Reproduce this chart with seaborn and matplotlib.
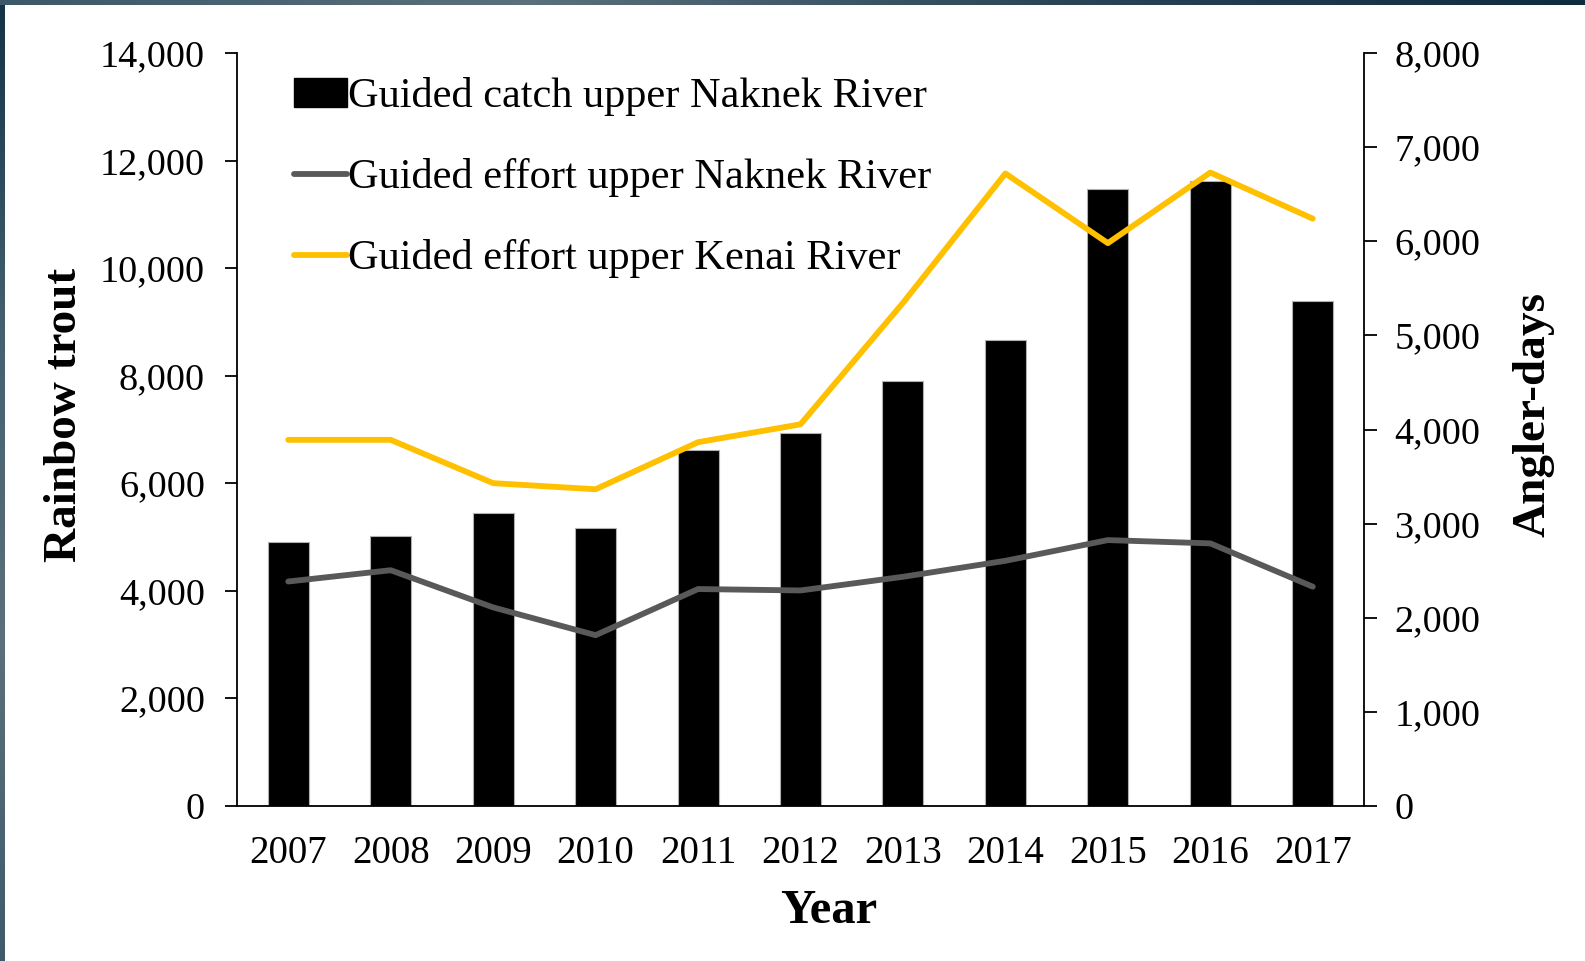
import numpy as np
import pandas as pd
import matplotlib
matplotlib.use("Agg")
import matplotlib.pyplot as plt
import seaborn as sns
from matplotlib.lines import Line2D
from matplotlib.patches import Patch
from matplotlib.ticker import FuncFormatter, MultipleLocator

years = ["2007", "2008", "2009", "2010", "2011", "2012", "2013", "2014", "2015", "2016", "2017"]
catch_naknek = [4910, 5025, 5450, 5175, 6615, 6940, 7900, 8670, 11480, 11620, 9395]
effort_naknek = [2385, 2505, 2110, 1815, 2305, 2290, 2435, 2605, 2825, 2790, 2330]
effort_kenai = [3890, 3890, 3430, 3365, 3865, 4055, 5345, 6720, 5980, 6730, 6240]

label_catch = "Guided catch upper Naknek River"
label_naknek = "Guided effort upper Naknek River"
label_kenai = "Guided effort upper Kenai River"

df = pd.DataFrame({
    "year": years,
    "catch": catch_naknek,
    "naknek": effort_naknek,
    "kenai": effort_kenai,
})

sns.set_style("white")
plt.rcParams["font.family"] = ["Liberation Serif", "DejaVu Serif"]
plt.rcParams.update({
    "text.color": "black",
    "axes.labelcolor": "black",
    "xtick.color": "black",
    "ytick.color": "black",
})

fig = plt.figure(figsize=(15.85, 9.61), dpi=100)
ax = fig.add_axes([237 / 1585, 1 - 806 / 961, 1127 / 1585, 753 / 961])

# dark frame strips along top and left edge
grad = np.linspace(0, 1, 256).reshape(1, -1)
top = fig.add_axes([0, 1 - 5 / 961, 1, 5 / 961])
top.imshow(grad, aspect="auto", cmap=matplotlib.colors.LinearSegmentedColormap.from_list(
    "t", ["#3d5868", "#5b707c", "#2a4556", "#0f2b3e"]))
top.axis("off")
left = fig.add_axes([0, 0, 5 / 1585, 1 - 5 / 961])
left.imshow(grad.T[::-1], aspect="auto", cmap=matplotlib.colors.LinearSegmentedColormap.from_list(
    "l", ["#3f5a6a", "#5c707b", "#44606e", "#143347"]))
left.axis("off")

sns.barplot(data=df, x="year", y="catch", color="black", width=0.4,
            edgecolor="#b0b0b0", linewidth=0.8, saturation=1, ax=ax)
ax.set_ylim(0, 14000)
ax.set_xlim(-0.5, len(years) - 0.5)
ax.yaxis.set_major_locator(MultipleLocator(2000))

ax2 = ax.twinx()
sns.lineplot(x=np.arange(len(years)), y=df["naknek"], color="#595959", linewidth=4.2,
             solid_capstyle="round", ax=ax2)
sns.lineplot(x=np.arange(len(years)), y=df["kenai"], color="#FFC000", linewidth=4.2,
             solid_capstyle="round", ax=ax2)
ax2.set_ylim(0, 8000)
ax2.yaxis.set_major_locator(MultipleLocator(1000))

fmt = FuncFormatter(lambda v, p: f"{int(v):,}")
ax.yaxis.set_major_formatter(fmt)
ax2.yaxis.set_major_formatter(fmt)

# x ticks at category boundaries, labels centred on bars
ax.set_xticks(np.arange(-0.5, len(years)), [""] * (len(years) + 1))
ax.set_xticks(np.arange(len(years)), years, minor=True)
ax.tick_params(axis="x", which="major", length=10, width=1.3, direction="out", color="black")
ax.tick_params(axis="x", which="minor", length=0, pad=21, labelsize=28)
ax.tick_params(axis="y", length=9, width=1.3, direction="out", color="black", pad=14, labelsize=27.5, left=True)
ax2.tick_params(axis="y", length=9, width=1.3, direction="out", color="black", pad=13, labelsize=27.5, right=True)

for a in (ax, ax2):
    for s in a.spines.values():
        s.set_visible(False)
    a.set_xlabel("")
    a.set_ylabel("")
ax.spines["left"].set_visible(True)
ax.spines["bottom"].set_visible(True)
ax2.spines["right"].set_visible(True)
for s in (ax.spines["left"], ax.spines["bottom"], ax2.spines["right"]):
    s.set_color("black")
    s.set_linewidth(1.3)

ax.set_xlabel("Year", fontsize=35, fontweight="bold", va="center")
ax.xaxis.set_label_coords(0.525, -0.139)
ax.set_ylabel("Rainbow trout", fontsize=34, fontweight="bold", va="center")
ax.yaxis.set_label_coords(-0.153, 0.52)
ax2.set_ylabel("Angler-days", fontsize=34, fontweight="bold", va="center", rotation=90)
ax2.yaxis.set_label_coords(1.15, 0.52)

handles = [
    Patch(facecolor="black", edgecolor="black"),
    Line2D([], [], color="#595959", linewidth=4.2, solid_capstyle="round"),
    Line2D([], [], color="#FFC000", linewidth=4.2, solid_capstyle="round"),
]
ax2.legend(handles, [label_catch, label_naknek, label_kenai], loc="upper left",
           bbox_to_anchor=(0.024, 1.007), frameon=False, fontsize=30.5,
           handlelength=1.25, handleheight=0.67, handletextpad=0.03, labelspacing=0.99,
           borderaxespad=0.3)

fig.savefig("out.png", dpi=100, facecolor="white")
